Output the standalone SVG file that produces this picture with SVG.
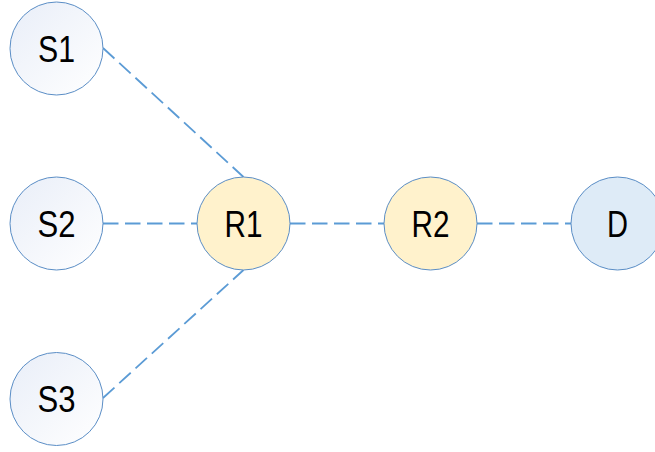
<svg xmlns="http://www.w3.org/2000/svg" width="655" height="452" viewBox="0 0 655 452">
<defs>
<linearGradient id="sg" x1="0" y1="0" x2="1" y2="1">
<stop offset="0" stop-color="#e9eef8"/>
<stop offset="1" stop-color="#ffffff"/>
</linearGradient>
<style>
.n{stroke:#5b8ec6;stroke-width:1}
.s{fill:url(#sg)}
.r{fill:#fff2cc}
.d{fill:#deebf7}
.t{font-family:"Liberation Sans",Arial,sans-serif;font-size:36px;fill:#000;text-anchor:middle}
.e{stroke:#5b9bd5;stroke-width:1.8;stroke-dasharray:15.5 6.5;fill:none}
</style>
</defs>
<rect width="655" height="452" fill="#fff"/>
<g id="edges">
<line class="e" x1="103" y1="48" x2="243.5" y2="177"/>
<line class="e" x1="103" y1="223.5" x2="197" y2="223.5"/>
<line class="e" x1="103" y1="398" x2="243.5" y2="270"/>
<line class="e" x1="290" y1="223.5" x2="384" y2="223.5"/>
<line class="e" x1="477" y1="223.5" x2="571" y2="223.5"/>
</g>
<g id="S1"><circle class="n s" cx="56.5" cy="48.5" r="46.5"/><text class="t" x="56.5" y="61.5" textLength="37" lengthAdjust="spacingAndGlyphs">S1</text></g>
<g id="S2"><circle class="n s" cx="56.5" cy="223.5" r="46.5"/><text class="t" x="56.5" y="236.5" textLength="38" lengthAdjust="spacingAndGlyphs">S2</text></g>
<g id="S3"><circle class="n s" cx="56.5" cy="399" r="46.5"/><text class="t" x="56.5" y="412" textLength="38" lengthAdjust="spacingAndGlyphs">S3</text></g>
<g id="R1"><circle class="n r" cx="243.5" cy="223.5" r="46.5"/><text class="t" x="243.5" y="236.5" textLength="38" lengthAdjust="spacingAndGlyphs">R1</text></g>
<g id="R2"><circle class="n r" cx="430.5" cy="223.5" r="46.5"/><text class="t" x="430.5" y="236.5" textLength="38" lengthAdjust="spacingAndGlyphs">R2</text></g>
<g id="D"><circle class="n d" cx="617.5" cy="223.5" r="46.5"/><text class="t" x="617.5" y="236.5" textLength="21" lengthAdjust="spacingAndGlyphs">D</text></g>
</svg>
